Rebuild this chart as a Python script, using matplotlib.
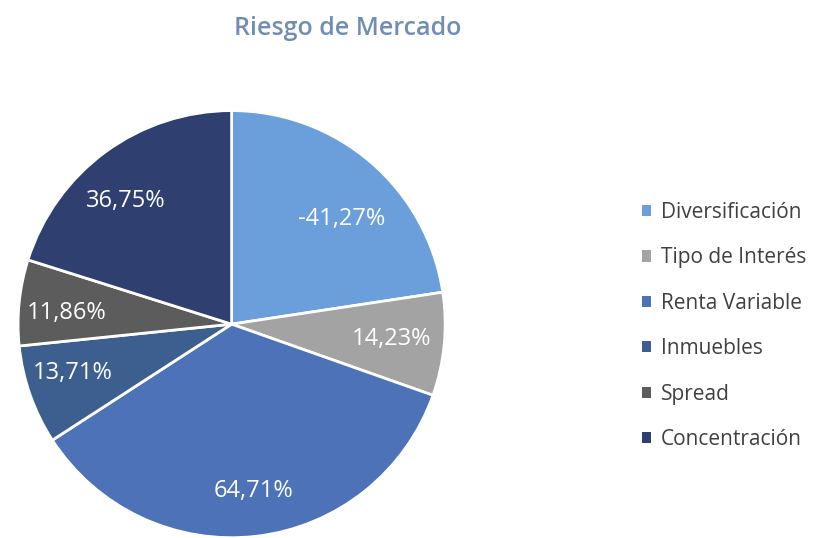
import numpy as np
import matplotlib.pyplot as plt
from matplotlib.patches import Patch

plt.rcParams['font.family'] = ['Open Sans', 'DejaVu Sans']

# Datos
categorias = ['Diversificación', 'Tipo de Interés', 'Renta Variable',
              'Inmuebles', 'Spread', 'Concentración']
valores = [-41.27, 14.23, 64.71, 13.71, 11.86, 36.75]
colores = ['#6b9fdb', '#a3a3a3', '#4d72b8', '#3d5f8f', '#5c5c5c', '#2f4070']
# colocación de etiquetas (distancia al centro, giro en grados)
dist_etiquetas = [0.71, 0.75, 0.79, 0.78, 0.775, 0.76]
giro_etiquetas = [-5.6, 0.0, 0.6, -2.4, 2.0, 4.5]

fig = plt.figure(figsize=(8.17, 5.38), dpi=100)
ax = fig.add_axes([0.0195, -0.005, 0.528, 0.805])

tamanos = [abs(v) for v in valores]
wedges, _ = ax.pie(tamanos, colors=colores, startangle=90, counterclock=False,
                   wedgeprops=dict(edgecolor='white', linewidth=2))
ax.set_xlim(-1.01, 1.01)
ax.set_ylim(-1.01, 1.01)
ax.set_aspect('equal')

# etiquetas de porcentaje
for w, v, d, g in zip(wedges, valores, dist_etiquetas, giro_etiquetas):
    ang = np.deg2rad((w.theta1 + w.theta2) / 2 + g)
    txt = f"{v:.2f}%".replace('.', ',')
    ax.text(d * np.cos(ang), d * np.sin(ang), txt, ha='center', va='center',
            color='white', fontsize=17)

fig.text(0.426, 0.947, 'Riesgo de Mercado', ha='center', va='center',
         fontsize=18, fontweight='semibold', color='#6f8db5')

handles = [Patch(facecolor=c, edgecolor='none') for c in colores]
fig.legend(handles, categorias, loc='center left', bbox_to_anchor=(0.763, 0.394),
           frameon=False, fontsize=15, labelspacing=1.17, handlelength=0.45,
           handleheight=0.45, handletextpad=0.45, labelcolor='#404040')

fig.savefig('out.png', dpi=100)
